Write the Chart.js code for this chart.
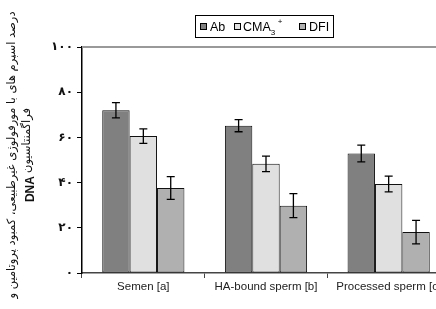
<!DOCTYPE html>
<html>
<head>
<meta charset="utf-8">
<script src="https://cdn.jsdelivr.net/npm/chart.js@4"></script>
<style>
  html, body { margin: 0; padding: 0; background: #fff; overflow: hidden; }
  #wrap { width: 456px; height: 309px; }
</style>
</head>
<body>
<div id="wrap"><canvas id="chart" width="456" height="309"></canvas></div>
<script>
const categories = ['Semen [a]', 'HA-bound sperm [b]', 'Processed sperm [c]'];
const seriesNames = ['Ab', 'CMA3+', 'DFI'];
const abValues  = [72.0, 65.2, 52.9];
const abErr     = [3.4, 2.7, 3.7];
const cmaValues = [60.6, 48.3, 39.4];
const cmaErr    = [3.2, 3.4, 3.5];
const dfiValues = [37.6, 29.8, 18.1];
const dfiErr    = [5.0, 5.3, 5.2];
const yTicks    = [0, 20, 40, 60, 80, 100];
const persianDigits = ['۰', '۱', '۲', '۳', '۴', '۵', '۶', '۷', '۸', '۹'];

const colors = ['#808080', '#e0e0e0', '#b0b0b0'];
const errors = [abErr, cmaErr, dfiErr];

function toPersian(n) {
    return String(n).split('').map(function (d) { return persianDigits[+d] || d; }).join('');
}

const errorBars = {
    id: 'errorBars',
    afterDatasetsDraw(chart) {
        const ctx = chart.ctx;
        const y = chart.scales.y;
        ctx.save();
        ctx.strokeStyle = '#000';
        ctx.lineWidth = 1.3;
        chart.data.datasets.forEach(function (ds, i) {
            const meta = chart.getDatasetMeta(i);
            meta.data.forEach(function (bar, j) {
                const v = ds.data[j], e = errors[i][j];
                const top = y.getPixelForValue(v + e);
                const bot = y.getPixelForValue(v - e);
                ctx.beginPath();
                ctx.moveTo(bar.x, top); ctx.lineTo(bar.x, bot);
                ctx.moveTo(bar.x - 4, top); ctx.lineTo(bar.x + 4, top);
                ctx.moveTo(bar.x - 4, bot); ctx.lineTo(bar.x + 4, bot);
                ctx.stroke();
            });
        });
        ctx.restore();
    }
};

const frame = {
    id: 'frame',
    beforeDatasetsDraw(chart) {
        const ctx = chart.ctx, a = chart.chartArea;
        ctx.save();
        ctx.strokeStyle = '#999';
        ctx.lineWidth = 2;
        ctx.beginPath();
        ctx.moveTo(a.left, a.top); ctx.lineTo(a.right, a.top);
        ctx.stroke();
        ctx.restore();
    }
};

const legendBox = {
    id: 'legendBox',
    afterDraw(chart) {
        const ctx = chart.ctx;
        ctx.save();
        ctx.strokeStyle = '#000';
        ctx.lineWidth = 1;
        ctx.strokeRect(195.5, 15.5, 138, 22);
        ctx.fillStyle = '#000';
        ctx.textBaseline = 'alphabetic';
        const items = [
            { x: 200, tx: 210 },
            { x: 234, tx: 243 },
            { x: 299, tx: 309 }
        ];
        items.forEach(function (it, i) {
            ctx.fillStyle = colors[i];
            ctx.fillRect(it.x + 0.5, 23.5, 6, 6);
            ctx.strokeRect(it.x + 0.5, 23.5, 6, 6);
            ctx.fillStyle = '#000';
            ctx.font = '12.5px "Liberation Sans", Arial, sans-serif';
            if (i === 1) {
                ctx.fillText('CMA', it.tx, 31);
                const w = ctx.measureText('CMA').width;
                ctx.font = '8px "Liberation Sans", Arial, sans-serif';
                ctx.fillText('3', it.tx + w, 35);
                ctx.fillText('+', it.tx + w + 7, 24);
            } else {
                ctx.fillText(seriesNames[i], it.tx, 31);
            }
        });
        ctx.restore();
    }
};

const yTitle = {
    id: 'yTitle',
    afterDraw(chart) {
        const ctx = chart.ctx;
        const line1 = 'درصد اسپرم های با مورفولوژی غیرطبیعی، کمبود پروتامین و';
        const line2 = 'فراگمنتاسیون';
        ctx.save();
        ctx.fillStyle = '#111';
        ctx.translate(0, 155);
        ctx.rotate(-Math.PI / 2);
        ctx.textBaseline = 'middle';
        ctx.textAlign = 'center';
        ctx.direction = 'rtl';
        ctx.font = '11.5px "DejaVu Sans", sans-serif';
        ctx.fillText(line1, 0, 12);
        // second line: Persian word plus bold DNA
        const fa = '11.5px "DejaVu Sans", sans-serif';
        const fb = 'bold 12px "Liberation Sans", Arial, sans-serif';
        ctx.font = fa;
        const wP = ctx.measureText(line2).width;
        ctx.font = fb;
        const wD = ctx.measureText('DNA').width;
        const gap = 3;
        const total = wP + gap + wD;
        ctx.textAlign = 'left';
        ctx.direction = 'ltr';
        ctx.fillText('DNA', -total / 2, 31);
        ctx.font = fa;
        ctx.direction = 'rtl';
        ctx.textAlign = 'right';
        ctx.fillText(line2, total / 2, 27);
        ctx.restore();
    }
};

new Chart(document.getElementById('chart'), {
    type: 'bar',
    data: {
        labels: categories,
        datasets: [
            { label: seriesNames[0], data: abValues,  backgroundColor: colors[0] },
            { label: seriesNames[1], data: cmaValues, backgroundColor: colors[1] },
            { label: seriesNames[2], data: dfiValues, backgroundColor: colors[2] }
        ].map(function (d) {
            return Object.assign(d, {
                borderColor: '#111', borderWidth: 1, borderSkipped: false,
                barPercentage: 1, categoryPercentage: 0.67
            });
        })
    },
    options: {
        responsive: false,
        animation: false,
        layout: { padding: { top: 47, right: 6, left: 0, bottom: 0 } },
        plugins: { legend: { display: false }, tooltip: { enabled: false } },
        scales: {
            x: {
                grid: { display: true, drawOnChartArea: false, tickLength: 5, color: '#444' },
                border: { color: '#444', width: 1.5 },
                ticks: { color: '#222', font: { family: '"Liberation Sans", Arial', size: 11.5 }, padding: 2, maxRotation: 0, autoSkip: false },
                afterFit: function (s) { s.height = 36; }
            },
            y: {
                min: 0, max: 100,
                afterBuildTicks: function (s) { s.ticks = yTicks.map(function (v) { return { value: v }; }); },
                grid: { display: true, drawOnChartArea: false, tickLength: 5, color: '#000' },
                border: { color: '#000', width: 1.5 },
                ticks: {
                    color: '#111', padding: 4,
                    font: { family: '"DejaVu Sans"', size: 12, weight: 'bold' },
                    callback: function (v) { return toPersian(v); }
                },
                afterFit: function (s) { s.width = 82; }
            }
        }
    },
    plugins: [frame, errorBars, legendBox, yTitle]
});
</script>
</body>
</html>
